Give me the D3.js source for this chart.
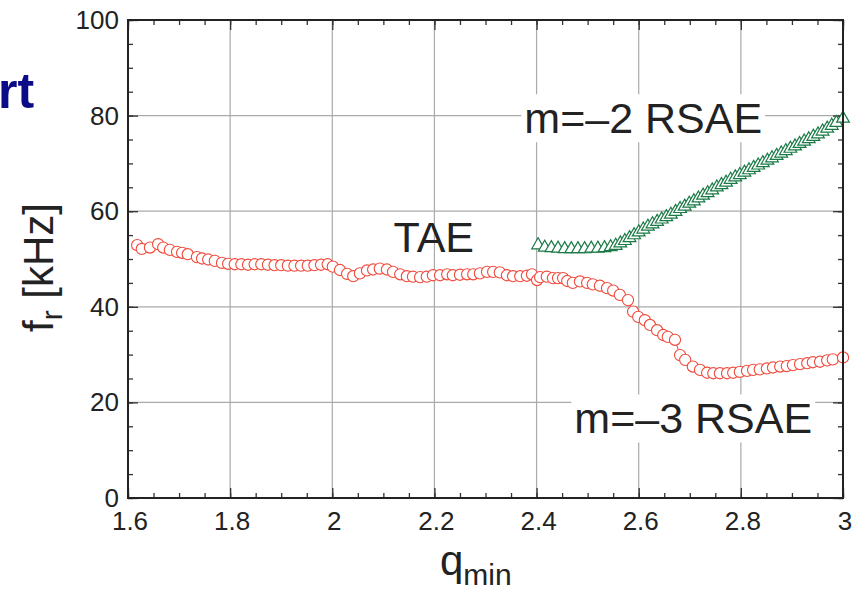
<!DOCTYPE html>
<html><head><meta charset="utf-8">
<script src="https://cdn.jsdelivr.net/npm/d3@7"></script>
<style>body{margin:0;background:#fff}svg{display:block}</style>
</head><body><svg id="c" width="858" height="596"></svg>
<script>
// ---- data ----
const taeQ = [1.618,1.627,1.643,1.659,1.669,1.682,1.696,1.706,1.717,1.735,1.745,1.757,1.770,1.784,1.796,
  1.809,1.822,1.835,1.848,1.861,1.874,1.887,1.900,1.913,1.926,1.939,1.952,1.965,1.978,1.991,
  2.001,2.015,2.029,2.041,2.054,2.068,2.080,2.093,2.107,2.119,2.133,2.146,2.158,2.172,2.185,2.197,2.211,2.225,2.236,2.250,2.264,2.276,2.289,2.303,2.315,
  2.328,2.342,2.354,2.368,2.381,2.391,2.401,2.407,2.420,2.432,2.442,2.452,2.460,2.471,2.485,2.499,2.510,2.524,2.538,2.550,2.563,2.579,
  2.589,2.599,2.612,2.622,2.636,2.648,2.657,2.671,2.681,2.691,2.706,2.720,2.734,2.746,2.759,2.773,2.785,2.798,2.812,2.824,2.837,2.851,2.863,2.877,2.890,2.902,2.916,2.930,2.941,2.955,2.969,2.980,3.000];
const taeF = [52.9,52.1,52.4,53.1,52.4,51.9,51.5,51.3,51.0,50.4,50.1,49.9,49.6,49.2,49.0,
  48.9,48.9,48.8,48.9,48.9,48.8,48.7,48.7,48.6,48.6,48.6,48.6,48.7,48.8,48.9,
  48.4,47.7,46.9,46.4,47.0,47.6,47.8,48.0,47.8,47.3,46.8,46.4,46.3,46.2,46.3,46.6,46.6,46.8,46.6,46.7,46.8,46.8,47.0,47.3,47.3,
  47.2,46.6,46.4,46.4,46.5,46.8,45.6,46.2,46.3,46.0,46.0,46.0,45.4,45.0,45.3,45.0,44.7,44.4,43.9,43.4,42.5,41.4,
  39.0,37.9,37.2,36.2,35.1,34.1,33.7,33.1,29.9,28.9,27.5,26.8,26.2,26.1,26.1,26.1,26.2,26.4,26.6,26.8,26.9,27.1,27.3,27.5,27.6,27.8,28.0,28.2,28.4,28.5,28.8,29.0,29.4];

const rsaeQ = [2.403,2.416,2.429,2.442,2.455,2.468,2.481,2.494,2.507,2.520,2.533,2.545,2.555,2.564,2.573,2.582,2.591,2.600,
  2.609,2.618,2.627,2.636,2.645,2.654,2.663,2.672,2.681,2.690,2.699,2.708,2.717,2.726,2.735,2.744,2.753,2.762,2.771,2.780,
  2.789,2.798,2.807,2.816,2.825,2.834,2.843,2.852,2.861,2.870,2.879,2.888,2.897,2.906,2.915,2.924,2.933,2.942,2.951,2.960,2.969,2.978,2.987,3.000];
const rsaeF = [52.9,52.4,52.3,52.2,52.1,52.1,52.1,52.1,52.2,52.2,52.3,52.5,52.8,53.3,53.8,54.4,55.0,55.6,
  56.2,56.8,57.3,57.8,58.3,58.8,59.3,59.9,60.5,61.0,61.6,62.1,62.7,63.3,63.8,64.4,65.0,65.5,66.0,66.6,
  67.1,67.6,68.1,68.6,69.1,69.6,70.1,70.6,71.1,71.6,72.1,72.6,73.1,73.6,74.1,74.6,75.1,75.6,76.1,76.7,77.3,77.9,78.5,79.4];

const xTicks = [1.6,1.8,2.0,2.2,2.4,2.6,2.8,3.0];
const xTickLabels = ["1.6","1.8","2","2.2","2.4","2.6","2.8","3"];
const yTicks = [0,20,40,60,80,100];
const yTickLabels = ["0","20","40","60","80","100"];
const labels = [
  {text:"TAE", q:2.12, f:51.5, size:43, bg:false},
  {text:"m=\u20132 RSAE", q:2.376, f:76.3, size:43, bg:true},
  {text:"m=\u20133 RSAE", q:2.474, f:13.5, size:43, bg:true}
];

// ---- layout ----
const W = 858, H = 596;
const m = {l:128, t:20, r:15, b:98};
const svg = d3.select("#c");
const x = d3.scaleLinear().domain([1.6,3.0]).range([m.l, W-m.r]);
const y = d3.scaleLinear().domain([0,100]).range([H-m.b, m.t]);
const font = "'Liberation Sans', Arial, Helvetica, sans-serif";

// grid
const g = svg.append("g");
g.selectAll(".gx").data(xTicks.slice(1,-1)).enter().append("line")
  .attr("x1",d=>x(d)).attr("x2",d=>x(d)).attr("y1",y(0)).attr("y2",y(100))
  .attr("stroke","#aaa").attr("stroke-width",1.2);
g.selectAll(".gy").data(yTicks.slice(1,-1)).enter().append("line")
  .attr("y1",d=>y(d)).attr("y2",d=>y(d)).attr("x1",x(1.6)).attr("x2",x(3.0))
  .attr("stroke","#aaa").attr("stroke-width",1.2);

// axes with inward ticks (all four sides)
const xMinor = d3.range(1.6, 3.0001, 0.05);
const yMinor = d3.range(0, 100.001, 5);
function addAxis(axisGen, tr){
  svg.append("g").attr("transform",tr).call(axisGen)
    .call(s=>s.select(".domain").remove())
    .call(s=>s.selectAll("line").attr("stroke","#333").attr("stroke-width",1.3))
    .call(s=>s.selectAll("text").remove());
}
addAxis(d3.axisBottom(x).tickValues(xMinor).tickSize(-5), `translate(0,${y(0)})`);
addAxis(d3.axisBottom(x).tickValues(xTicks).tickSize(-10), `translate(0,${y(0)})`);
addAxis(d3.axisTop(x).tickValues(xMinor).tickSize(-5), `translate(0,${y(100)})`);
addAxis(d3.axisTop(x).tickValues(xTicks).tickSize(-10), `translate(0,${y(100)})`);
addAxis(d3.axisLeft(y).tickValues(yMinor).tickSize(-5), `translate(${x(1.6)},0)`);
addAxis(d3.axisLeft(y).tickValues(yTicks).tickSize(-10), `translate(${x(1.6)},0)`);
addAxis(d3.axisRight(y).tickValues(yMinor).tickSize(-5), `translate(${x(3.0)},0)`);
addAxis(d3.axisRight(y).tickValues(yTicks).tickSize(-10), `translate(${x(3.0)},0)`);

// tick labels
svg.selectAll(".xl").data(xTicks).enter().append("text")
  .attr("x",d=>x(d)+2).attr("y",y(0)+32).attr("text-anchor","middle")
  .attr("font-family",font).attr("font-size",26).attr("fill","#222")
  .text((d,i)=>xTickLabels[i]);
svg.selectAll(".yl").data(yTicks).enter().append("text")
  .attr("x",x(1.6)-9).attr("y",d=>y(d)+9).attr("text-anchor","end")
  .attr("font-family",font).attr("font-size",26).attr("fill","#222")
  .text((d,i)=>yTickLabels[i]);

// labels in plot
labels.forEach(L=>{
  const grp = svg.append("g");
  const t = grp.append("text").attr("x",x(L.q)).attr("y",y(L.f))
    .attr("font-family",font).attr("font-size",L.size).attr("fill","#222").text(L.text);
  if(L.bg){
    const bb = t.node().getBBox();
    grp.insert("rect","text").attr("x",bb.x-3).attr("y",bb.y).attr("width",bb.width+6).attr("height",bb.height).attr("fill","#fff");
  }
});

// TAE series
const tae = taeQ.map((q,i)=>[q,taeF[i]]);
svg.append("path").datum(tae).attr("d",d3.line().x(d=>x(d[0])).y(d=>y(d[1])))
  .attr("fill","none").attr("stroke","#f04a3c").attr("stroke-width",1);
svg.append("g").selectAll("circle").data(tae).enter().append("circle")
  .attr("cx",d=>x(d[0])).attr("cy",d=>y(d[1])).attr("r",5.6)
  .attr("fill","#fff").attr("stroke","#f04a3c").attr("stroke-width",1.1);

// RSAE m=-2 series
const rs = rsaeQ.map((q,i)=>[q,rsaeF[i]]);
svg.append("path").datum(rs).attr("d",d3.line().x(d=>x(d[0])).y(d=>y(d[1])))
  .attr("fill","none").attr("stroke","#1a7a45").attr("stroke-width",1);
const tri = d3.symbol().type(d3.symbolTriangle).size(70);
svg.append("g").selectAll("path").data(rs).enter().append("path")
  .attr("d",tri).attr("transform",d=>`translate(${x(d[0])},${y(d[1])})`)
  .attr("fill","#fff").attr("stroke","#1a7a45").attr("stroke-width",1.2);

// frame
svg.append("rect").attr("x",x(1.6)).attr("y",y(100)).attr("width",x(3.0)-x(1.6)).attr("height",y(0)-y(100))
  .attr("fill","none").attr("stroke","#222").attr("stroke-width",2);

// axis titles
const xt = svg.append("text").attr("x",440).attr("y",575).attr("font-family",font).attr("font-size",42).attr("fill","#222");
xt.append("tspan").text("q");
xt.append("tspan").attr("font-size",30).attr("dy",10).text("min");

const yt = svg.append("text").attr("transform",`translate(53,332) rotate(-90)`)
  .attr("font-family",font).attr("font-size",42).attr("fill","#222");
yt.append("tspan").text("f");
yt.append("tspan").attr("font-size",30).attr("dy",9).text("r");
yt.append("tspan").attr("dy",-9).text(" [kHz]");

// cropped title fragment (partially cut by the left edge, as in the reference)
svg.append("text").attr("x",-2).attr("y",108).attr("font-family",font).attr("font-weight","bold")
  .attr("font-size",50).attr("fill","#0b0b87").text("rt");
</script></body></html>
